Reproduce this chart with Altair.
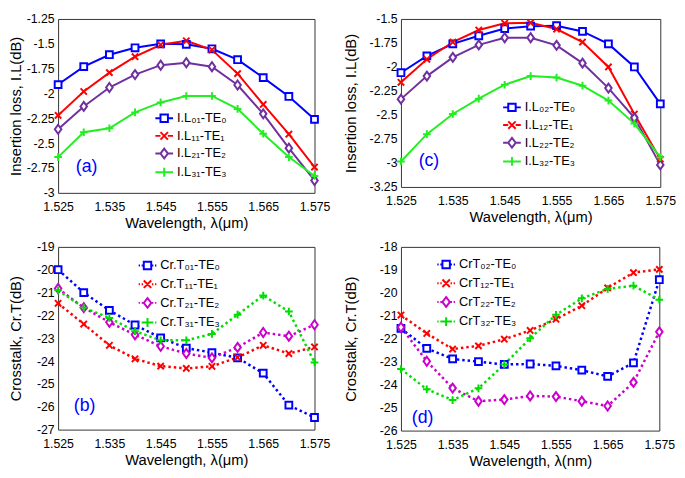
import altair as alt
import pandas as pd

FONT = "Liberation Sans"

wavelength = [1.525, 1.530, 1.535, 1.540, 1.545, 1.550, 1.555, 1.560, 1.565, 1.570, 1.575]
x_ticks = [1.525, 1.535, 1.545, 1.555, 1.565, 1.575]

# panel (a): insertion loss, first set
a_names = ["I.L₀₁-TE₀", "I.L₁₁-TE₁", "I.L₂₁-TE₂", "I.L₃₁-TE₃"]
a_il01 = [-1.91, -1.73, -1.61, -1.54, -1.50, -1.505, -1.55, -1.66, -1.84, -2.03, -2.26]
a_il11 = [-2.22, -1.98, -1.79, -1.63, -1.51, -1.47, -1.56, -1.80, -2.11, -2.41, -2.74]
a_il21 = [-2.36, -2.13, -1.94, -1.81, -1.715, -1.69, -1.73, -1.915, -2.205, -2.55, -2.875]
a_il31 = [-2.64, -2.39, -2.35, -2.19, -2.09, -2.025, -2.025, -2.155, -2.405, -2.64, -2.83]
a_yticks = [-1.25, -1.5, -1.75, -2, -2.25, -2.5, -2.75, -3]

# panel (c): insertion loss, second set
c_names = ["I.L₀₂-TE₀", "I.L₁₂-TE₁", "I.L₂₂-TE₂", "I.L₃₂-TE₃"]
c_il02 = [-2.06, -1.885, -1.76, -1.675, -1.60, -1.575, -1.57, -1.63, -1.76, -2.0, -2.385]
c_il12 = [-2.16, -1.92, -1.74, -1.615, -1.545, -1.54, -1.605, -1.74, -2.0, -2.49, -2.96]
c_il22 = [-2.335, -2.095, -1.90, -1.77, -1.695, -1.695, -1.775, -1.96, -2.22, -2.53, -3.02]
c_il32 = [-2.985, -2.70, -2.49, -2.33, -2.185, -2.095, -2.11, -2.195, -2.35, -2.59, -2.94]
c_yticks = [-1.5, -1.75, -2, -2.25, -2.5, -2.75, -3, -3.25]

# panel (b): crosstalk, first set
b_names = ["Cr.T₀₁-TE₀", "Cr.T₁₁-TE₁", "Cr.T₂₁-TE₂", "Cr.T₃₁-TE₃"]
b_ct01 = [-20.0, -21.0, -21.78, -22.42, -22.98, -23.43, -23.63, -23.86, -24.53, -25.93, -26.47]
b_ct11 = [-21.47, -22.38, -23.31, -23.90, -24.22, -24.32, -24.23, -23.84, -23.31, -23.67, -23.38]
b_ct21 = [-20.82, -21.66, -22.30, -22.85, -23.35, -23.67, -23.86, -23.40, -22.75, -22.91, -22.41]
b_ct31 = [-20.90, -21.66, -22.11, -22.69, -23.09, -23.09, -22.81, -21.97, -21.13, -21.83, -24.06]
b_yticks = [-19, -20, -21, -22, -23, -24, -25, -26, -27]

# panel (d): crosstalk, second set
d_names = ["CrT₀₂-TE₀", "CrT₁₂-TE₁", "CrT₂₂-TE₂", "CrT₃₂-TE₃"]
d_ct02 = [-21.55, -22.42, -22.88, -23.0, -23.12, -23.1, -23.18, -23.37, -23.64, -23.05, -19.43]
d_ct12 = [-20.97, -21.77, -22.45, -22.31, -22.02, -21.64, -21.15, -20.56, -19.79, -19.12, -18.98]
d_ct22 = [-21.5, -22.98, -24.15, -24.72, -24.65, -24.49, -24.52, -24.72, -24.93, -23.90, -21.70]
d_ct32 = [-23.32, -24.20, -24.67, -24.16, -23.12, -21.98, -20.96, -20.24, -19.83, -19.69, -20.30]
d_yticks = [-18, -19, -20, -21, -22, -23, -24, -25, -26]

# marker paths
SQ = "M-0.75,-0.75H0.75V0.75H-0.75Z"
XX = "M-0.7,-0.7L0.7,0.7M-0.7,0.7L0.7,-0.7"
DI = "M0,-1L0.72,0L0,1L-0.72,0Z"
PL = "M-0.85,0H0.85M0,-0.85V0.85"
point_shapes = [SQ, XX, DI, PL]

# legend symbols: marker plus line segment
m = 0.42
L_SQ = f"M-{m},-{m}H{m}V{m}H-{m}Z"
L_XX = f"M-{m},-{m}L{m},{m}M-{m},{m}L{m},-{m}"
L_DI = f"M0,-0.55L{m},0L0,0.55L-{m},0Z"
L_PL = "M-0.5,0H0.5M0,-0.5V0.5"
solid_seg = "M-1,0H-0.42M0.42,0H1"
dot_seg = "M-1,0H-0.85M-0.66,0H-0.5M0.5,0H0.66M0.85,0H1"
solid_leg = [solid_seg + s for s in [L_SQ, L_XX, L_DI]] + ["M-1,0H1M0,-0.5V0.5"]
dot_leg = [dot_seg + s for s in [L_SQ, L_XX, L_DI, L_PL]]

colors_il = ["#0000ff", "#ff0000", "#7030a0", "#22ee22"]
colors_ct = ["#0000ff", "#ff0000", "#cc00cc", "#00dd00"]


def panel(names, series, colors, leg_paths, dotted, ydomain, yticks, ytitle, xtitle,
          w, h, leg_x, leg_y, row_pad, tag, tag_x, tag_y, y_extent):
    rows = []
    for n, s in zip(names, series):
        for xv, v in zip(wavelength, s):
            rows.append({"wl": xv, "val": v, "series": n})
    df = pd.DataFrame(rows)
    xenc = alt.X("wl:Q", scale=alt.Scale(domain=[1.525, 1.575], nice=False, zero=False),
                 axis=alt.Axis(values=x_ticks, format=".3f", title=xtitle, labelFlush=False,
                               labelOverlap=False))
    yenc = alt.Y("val:Q", scale=alt.Scale(domain=ydomain, nice=False, zero=False),
                 axis=alt.Axis(values=yticks, labelExpr="'' + datum.value", title=ytitle,
                               minExtent=y_extent, maxExtent=y_extent, labelOverlap=False,
                               labelFlush=False))
    cscale = alt.Scale(domain=names, range=colors)
    base = alt.Chart(df)
    if dotted:
        line = base.mark_line(strokeWidth=2.5, strokeDash=[2.5, 3])
    else:
        line = base.mark_line(strokeWidth=2)
    line = line.encode(x=xenc, y=yenc, color=alt.Color("series:N", scale=cscale, legend=None))
    pts = base.mark_point(filled=False, fill="white", strokeWidth=2, size=85, opacity=1).encode(
        x=xenc, y=yenc,
        color=alt.Color("series:N", scale=cscale, legend=None),
        shape=alt.Shape("series:N", scale=alt.Scale(domain=names, range=point_shapes), legend=None),
    )
    leg = alt.Legend(orient="none", legendX=leg_x, legendY=leg_y, title=None, rowPadding=row_pad)
    legend_layer = base.transform_filter("false").mark_point(
        filled=False, strokeWidth=2, opacity=1).encode(
        x=xenc, y=yenc,
        color=alt.Color("series:N", scale=cscale, legend=leg),
        shape=alt.Shape("series:N", scale=alt.Scale(domain=names, range=leg_paths), legend=leg),
    )
    text = alt.Chart(pd.DataFrame({"tag": [tag]})).mark_text(
        align="left", baseline="middle", fontSize=18, font=FONT, color="#0000ff").encode(
        x=alt.value(tag_x), y=alt.value(tag_y), text="tag:N")
    return alt.layer(line, pts, legend_layer, text).resolve_scale(
        color="independent", shape="independent").properties(width=w, height=h)


pa = panel(a_names, [a_il01, a_il11, a_il21, a_il31], colors_il, solid_leg, False,
           [-3, -1.25], a_yticks, "Insertion loss, I.L(dB)", "Wavelength, λ(μm)",
           261, 177, 98, 91, 0, "(a)", 18, 151, 32)
pc = panel(c_names, [c_il02, c_il12, c_il22, c_il32], colors_il, solid_leg, False,
           [-3.25, -1.5], c_yticks, "Insertion loss, I.L(dB)", "Wavelength, λ(μm)",
           264, 171, 103, 80, 0, "(c)", 18, 145, 40)
pb = panel(b_names, [b_ct01, b_ct11, b_ct21, b_ct31], colors_ct, dot_leg, True,
           [-27, -19], b_yticks, "Crosstalk, Cr.T(dB)", "Wavelength, λ(μm)",
           261, 186, 81, 9, 1, "(b)", 16, 162, 32)
pd_ = panel(d_names, [d_ct02, d_ct12, d_ct22, d_ct32], colors_ct, dot_leg, True,
            [-26, -18], d_yticks, "Crosstalk, Cr.T(dB)", "Wavelength, λ(nm)",
            263, 187, 36, 8, 1, "(d)", 11, 174, 40)

top = alt.hconcat(pa, pc, spacing=12).resolve_scale(color="independent", shape="independent")
bottom = alt.hconcat(pb, pd_, spacing=12).resolve_scale(color="independent", shape="independent")

chart = alt.vconcat(top, bottom, spacing=9).resolve_scale(
    color="independent", shape="independent"
).properties(
    padding={"left": 0, "top": 0, "right": 0, "bottom": 0}
).configure_view(
    stroke="#333333", strokeWidth=1
).configure_axis(
    labelFont=FONT, titleFont=FONT, labelFontSize=12.5, titleFontSize=15,
    labelColor="black", titleColor="black", titleFontWeight="normal",
    grid=False, ticks=False, tickSize=0, domain=False
).configure_axisX(
    labelPadding=8, titlePadding=3
).configure_axisY(
    labelPadding=4, titlePadding=3
).configure_legend(
    labelFont=FONT, labelFontSize=13, labelColor="black", symbolSize=324,
    symbolStrokeWidth=2, padding=0, labelOffset=3
)

chart.save("out.html", embed_options={"renderer": "svg", "actions": False})
